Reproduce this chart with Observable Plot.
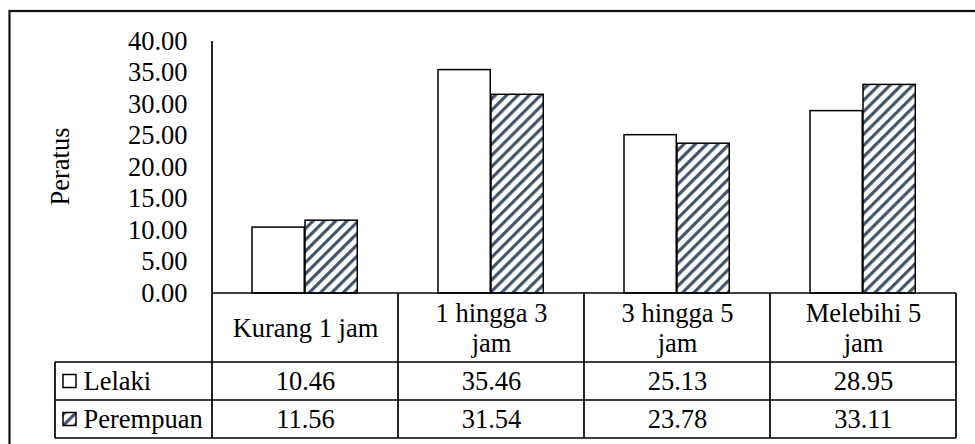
<!DOCTYPE html>
<html>
<head>
<meta charset="utf-8">
<script src="https://cdn.jsdelivr.net/npm/d3@7"></script>
<script src="https://cdn.jsdelivr.net/npm/@observablehq/plot@0.6"></script>
<style>
  html, body { margin: 0; padding: 0; background: white; }
  #chart svg { display: block; }
  #chart svg, #chart svg text { font-family: "Liberation Serif", "Times New Roman", serif !important; }
</style>
</head>
<body>
<div id="chart"></div>
<script>
const categories = ["Kurang 1 jam", "1 hingga 3 jam", "3 hingga 5 jam", "Melebihi 5 jam"];
const headerLabels = ["Kurang 1 jam", "1 hingga 3\njam", "3 hingga 5\njam", "Melebihi 5\njam"];
const seriesNames = ["Lelaki", "Perempuan"];
const lelaki = [10.46, 35.46, 25.13, 28.95];
const perempuan = [11.56, 31.54, 23.78, 33.11];
const yTicks = [0, 5, 10, 15, 20, 25, 30, 35, 40];
const yLabel = "Peratus";

const FONT = '"Liberation Serif", "Times New Roman", serif';
const FS = 26.5;
const STRIPE = "#44546A";

const data = categories.flatMap((c, i) => [
  {category: c, series: seriesNames[0], value: lelaki[i]},
  {category: c, series: seriesNames[1], value: perempuan[i]}
]);

const ROW_H1 = 69, ROW_H2 = 38; // table row heights
const T = {fontSize: FS, fontFamily: FONT, fill: "black", lineAnchor: "middle"};

const chart = Plot.plot({
  width: 975,
  height: 444,
  marginLeft: 210,
  marginRight: 18,
  marginTop: 41,
  marginBottom: 151,
  style: {fontFamily: FONT, fontSize: FS + "px", color: "black", background: "white"},
  x: {domain: categories, padding: 0, axis: null},
  y: {domain: [0, 40], axis: null},
  marks: [
    Plot.axisY(yTicks, {tickSize: 0, tickPadding: 23, tickFormat: d => d.toFixed(2), label: null, fontSize: FS, fontFamily: FONT, fill: "black"}),
    Plot.barY(data.filter(d => d.series === seriesNames[0]), {
      x: "category", y: "value", fill: "white", stroke: "black", strokeWidth: 1.5,
      insetLeft: 40, insetRight: 93.75
    }),
    Plot.barY(data.filter(d => d.series === seriesNames[1]), {
      x: "category", y: "value", fill: "url(#stripes)", stroke: "black", strokeWidth: 1.5,
      insetLeft: 93, insetRight: 40.75
    }),
    Plot.text([yLabel], {...T, text: d => d, frameAnchor: "left", textAnchor: "middle", dx: -150, dy: -1, rotate: -90}),
    Plot.text(categories, {...T, x: d => d, text: (d, i) => headerLabels[i], frameAnchor: "bottom", dy: 34, lineHeight: 1.13}),
    Plot.text(categories, {...T, x: d => d, text: (d, i) => lelaki[i].toFixed(2), frameAnchor: "bottom", dy: ROW_H1 + ROW_H2 / 2}),
    Plot.text(categories, {...T, x: d => d, text: (d, i) => perempuan[i].toFixed(2), frameAnchor: "bottom", dy: ROW_H1 + ROW_H2 * 1.5}),
    Plot.text([seriesNames[0]], {...T, text: d => d, frameAnchor: "bottom-left", dx: -127, dy: ROW_H1 + ROW_H2 / 2, textAnchor: "start"}),
    Plot.text([seriesNames[1]], {...T, text: d => d, frameAnchor: "bottom-left", dx: -127, dy: ROW_H1 + ROW_H2 * 1.5, textAnchor: "start"})
  ]
});

document.getElementById("chart").appendChild(chart);

// pattern + table grid drawn from the plot's own scales
const svg = d3.select(chart);
const defs = svg.insert("defs", ":first-child");
const pat = defs.append("pattern")
  .attr("id", "stripes")
  .attr("patternUnits", "userSpaceOnUse")
  .attr("width", 8).attr("height", 8)
  .attr("patternTransform", "rotate(45)");
pat.append("rect").attr("width", 8).attr("height", 8).attr("fill", "white");
pat.append("rect").attr("x", 0).attr("width", 3.2).attr("height", 8).attr("fill", STRIPE);

const sx = chart.scale("x"), sy = chart.scale("y");
const bw = sx.bandwidth;
const edges = categories.map(c => sx.apply(c));
edges.push(edges[edges.length - 1] + bw);
const left = edges[0], right = edges[edges.length - 1];
const y0 = sy.apply(0), yTop = sy.apply(40);
const hb = y0 + ROW_H1, r1 = hb + ROW_H2, r2 = r1 + ROW_H2;
const legendLeft = 55;

const g = svg.append("g").attr("stroke", "black").attr("stroke-width", 1.7).attr("fill", "none");
const line = (x1, y1, x2, y2) => g.append("line").attr("x1", x1).attr("y1", y1).attr("x2", x2).attr("y2", y2);
line(left, yTop, left, r2);
line(left, y0, right, y0);
[hb, r1, r2].forEach(y => line(legendLeft, y, right, y));
line(legendLeft, hb, legendLeft, r2);
edges.slice(1).forEach(x => line(x, y0, x, r2));

// legend swatches
const sw = 13;
svg.append("rect").attr("x", 63).attr("y", hb + ROW_H2 / 2 - sw / 2).attr("width", sw).attr("height", sw)
  .attr("fill", "white").attr("stroke", "black").attr("stroke-width", 1.5);
svg.append("rect").attr("x", 63).attr("y", r1 + ROW_H2 / 2 - sw / 2).attr("width", sw).attr("height", sw)
  .attr("fill", "url(#stripes)").attr("stroke", "black").attr("stroke-width", 1.5);

// outer chart border
svg.append("rect").attr("x", 9.5).attr("y", 11).attr("width", 1000).attr("height", 500)
  .attr("fill", "none").attr("stroke", "#111").attr("stroke-width", 2.2);
</script>
</body>
</html>
